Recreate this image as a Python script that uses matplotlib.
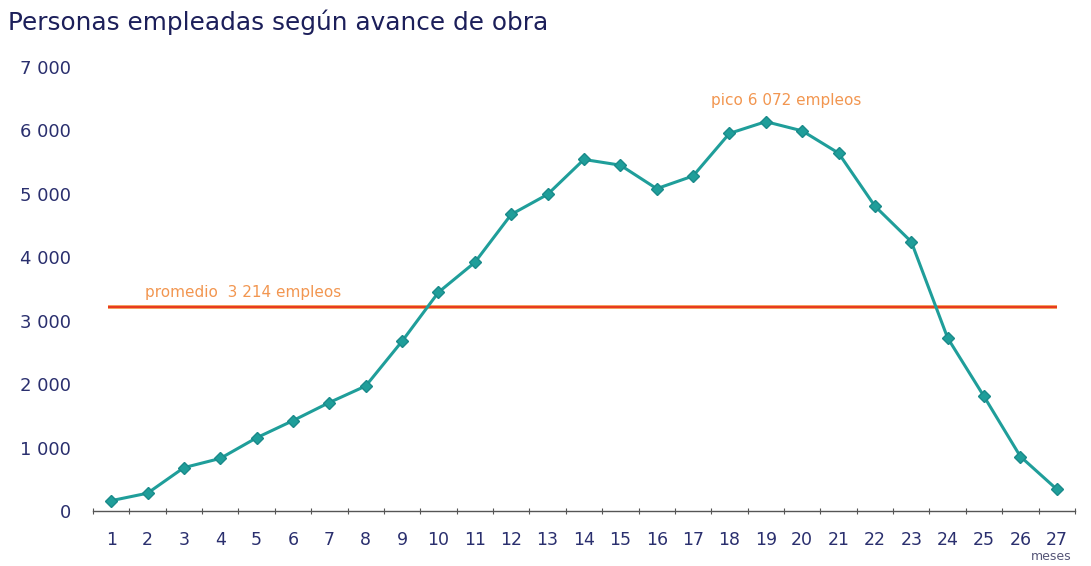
import numpy as np
import matplotlib.pyplot as plt
from matplotlib.ticker import FixedLocator, FuncFormatter

# data
meses = list(range(1, 28))
empleados = [170, 288, 690, 835, 1160, 1430, 1715, 1975, 2680, 3450,
             3920, 4675, 4990, 5540, 5450, 5080, 5280, 5950, 6135, 5990,
             5640, 4805, 4245, 2730, 1810, 865, 350]
promedio = 3214
pico = 6072
y_ticks = [0, 1000, 2000, 3000, 4000, 5000, 6000, 7000]

plt.rcParams['font.family'] = ['DejaVu Sans']

fig = plt.figure(figsize=(10.91, 5.66), dpi=100)
ax = fig.add_axes([0.0852, 0.0963, 0.9001, 0.7859])

teal = "#1f9e9a"
navy = "#2a2f6e"

ax.plot(meses, empleados, color=teal, lw=2.2, marker="D", ms=6,
        mfc=teal, mec="#1a8a8a", zorder=3)
ax.plot([meses[0] - 0.1, meses[-1]], [promedio, promedio], color="#f08a3a",
        lw=2.6, solid_capstyle="butt", zorder=2)
ax.plot([meses[0] - 0.1, meses[-1]], [promedio, promedio], color="#e8321e",
        lw=1.3, solid_capstyle="butt", zorder=2)

ax.text(1.93, 3440, "promedio  3 214 empleos", color="#f29650",
        fontsize=11, ha="left", va="center")
ax.text(19.55, 6460, "pico 6 072 empleos", color="#f29650",
        fontsize=11, ha="center", va="center")

ax.set_xlim(0.5, 27.5)
ax.set_ylim(0, 7000)

ax.set_xticks(meses)
ax.set_xticklabels([str(m) for m in meses], color=navy, fontsize=12.5)
ax.xaxis.set_minor_locator(FixedLocator(np.arange(0.5, 28, 1)))
ax.tick_params(axis="x", which="major", length=0, pad=14)
ax.tick_params(axis="x", which="minor", length=4, direction="inout",
               color="#555555", width=0.8)

ax.set_yticks(y_ticks)
ax.yaxis.set_major_formatter(FuncFormatter(
    lambda v, p: f"{int(v):,}".replace(",", " ")))
ax.tick_params(axis="y", length=0, pad=16, labelsize=13, labelcolor=navy)

for s in ["top", "right", "left"]:
    ax.spines[s].set_visible(False)
ax.spines["bottom"].set_color("#555555")
ax.spines["bottom"].set_linewidth(1.0)

fig.text(8 / 1091, 1 - 22 / 566, "Personas empleadas según avance de obra",
         color="#1c1f5a", fontsize=17.8, ha="left", va="center")
fig.text(1072 / 1091, 1 - 557 / 566, "meses", color="#555577",
         fontsize=9, ha="right", va="center")

fig.savefig("out.png", dpi=100, facecolor="white")
